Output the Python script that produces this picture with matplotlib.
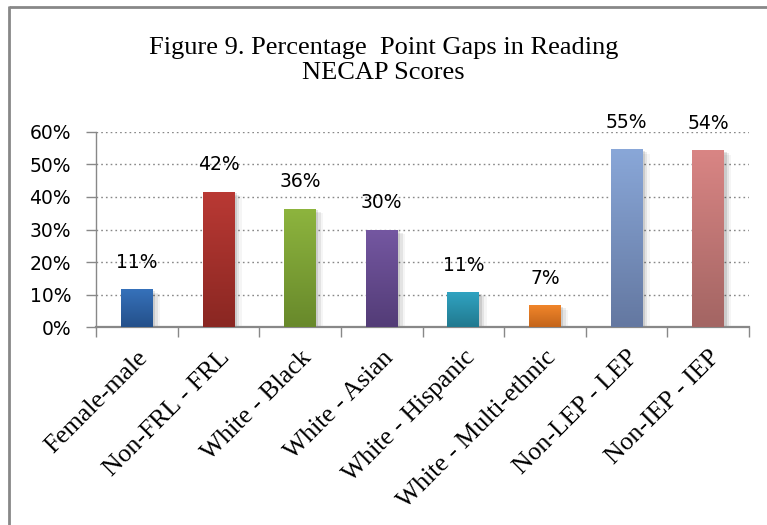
import numpy as np
import matplotlib
matplotlib.use("Agg")
import matplotlib.pyplot as plt
from matplotlib.colors import LinearSegmentedColormap
from matplotlib.lines import Line2D
from matplotlib.patches import Rectangle
from matplotlib.ticker import PercentFormatter, MultipleLocator

title = "Figure 9. Percentage  Point Gaps in Reading\nNECAP Scores"
categories = ["Female-male", "Non-FRL - FRL", "White - Black", "White - Asian",
              "White - Hispanic", "White - Multi-ethnic", "Non-LEP - LEP",
              "Non-IEP - IEP"]
gaps = [0.114, 0.415, 0.363, 0.298, 0.106, 0.065, 0.545, 0.542]
labels = ["11%", "42%", "36%", "30%", "11%", "7%", "55%", "54%"]
top_colors = ["#3671ba", "#b93934", "#8db43e", "#7457a1", "#30a3c1",
              "#f0852a", "#89a7d8", "#d98584"]
bottom_colors = ["#24508a", "#8a2722", "#68892b", "#533c77", "#21798f",
                 "#c4651b", "#6478a1", "#a36563"]

GRAY = "#888888"

fig = plt.figure(figsize=(7.67, 5.25), dpi=100)
ax = fig.add_axes([0.1252, 0.3771, 0.8513, 0.3715])

x = np.arange(len(categories))
bars = ax.bar(x, gaps, width=0.39, color="none", zorder=3)

grad = np.linspace(1, 0, 100).reshape(-1, 1)
for bar, lab, c0, c1 in zip(bars, labels, top_colors, bottom_colors):
    x0, w, h = bar.get_x(), bar.get_width(), bar.get_height()
    # soft shadow
    for k, a in enumerate([0.10, 0.07, 0.04]):
        d = 0.02 * (k + 1)
        ax.add_patch(Rectangle((x0 + d * 0.5, -0.004 * (k + 1)), w + d, h,
                               color="black", alpha=a, lw=0, zorder=2))
    cmap = LinearSegmentedColormap.from_list("g", [c1, c0])
    ax.imshow(grad, extent=[x0, x0 + w, 0, h], aspect="auto", cmap=cmap,
              vmin=0, vmax=1, zorder=3)
    ax.annotate(lab, (x0 + w / 2, h), xytext=(0, 13),
                textcoords="offset points", ha="center", va="bottom",
                fontsize=13.5, family="DejaVu Sans", color="black", zorder=5)

ax.set_xlim(-0.5, len(categories) - 0.5)
ax.set_ylim(0, 0.6)
ax.yaxis.set_major_locator(MultipleLocator(0.1))
ax.yaxis.set_major_formatter(PercentFormatter(1.0, decimals=0))
ax.grid(axis="y", color=GRAY, linestyle=(0, (1.2, 2.2)), linewidth=1.0, zorder=0)
ax.set_axisbelow(True)

ax.set_xticks(np.arange(len(categories) + 1) - 0.5, minor=False)
ax.set_xticklabels([])
ax.set_xticks(x, minor=True)
ax.set_xticklabels(categories, minor=True, rotation=45, ha="right",
                   va="top", rotation_mode="anchor", fontsize=18.5,
                   family="Liberation Serif")
ax.tick_params(axis="x", which="major", length=7, width=1, color=GRAY)
ax.tick_params(axis="x", which="minor", length=0, pad=14)
ax.tick_params(axis="y", length=7, width=1, color=GRAY, pad=11,
               labelsize=13.5)

for s in ["top", "right"]:
    ax.spines[s].set_visible(False)
ax.spines["left"].set_color(GRAY)
ax.spines["left"].set_linewidth(1)
ax.spines["bottom"].set_color(GRAY)
ax.spines["bottom"].set_linewidth(1.6)

fig.text(0.5, 1 - 37 / 525, title, ha="center", va="top", fontsize=19,
         family="Liberation Serif", linespacing=1.2)

# outer frame (top and left edges only visible)
fig.add_artist(Line2D([9 / 767, 1.0], [1 - 7 / 525, 1 - 7 / 525],
                      transform=fig.transFigure, color=GRAY, lw=2,
                      solid_capstyle="butt"))
fig.add_artist(Line2D([9 / 767, 9 / 767], [0.0, 1 - 6 / 525],
                      transform=fig.transFigure, color=GRAY, lw=2,
                      solid_capstyle="butt"))

fig.savefig("out.png", dpi=100)
